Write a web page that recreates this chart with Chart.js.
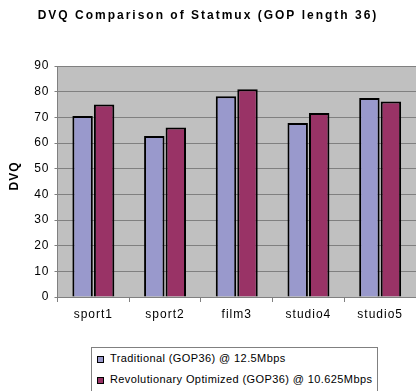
<!DOCTYPE html>
<html>
<head>
<meta charset="utf-8">
<script src="https://cdn.jsdelivr.net/npm/chart.js@4/dist/chart.umd.min.js"></script>
<style>
  html, body { margin: 0; padding: 0; background: #fff; overflow: hidden; }
  #wrap { position: relative; width: 416px; height: 391px; }
  #legend {
    position: absolute; left: 91px; top: 347px; width: 285px; height: 60px;
    border: 1px solid #808080; border-bottom: none; background: #fff;
    font: 11px "Liberation Sans", Arial, sans-serif; letter-spacing: 0.4px; color: #000;
  }
  #legend .item { height: 21px; line-height: 21px; padding-left: 5px; white-space: nowrap; }
  #legend .box {
    display: inline-block; width: 5px; height: 5px; border: 1px solid #000;
    margin-right: 6px; vertical-align: -1px;
  }
  #ytitle {
    position: absolute; left: 15px; top: 176px; width: 60px; height: 16px;
    margin-left: -30px; margin-top: -8px; line-height: 16px; text-align: center;
    font: bold 12px "Liberation Sans", Arial, sans-serif; letter-spacing: 1px; color: #000;
    transform: rotate(-90deg);
  }
</style>
</head>
<body>
<div id="wrap">
  <canvas id="chart" width="416" height="391"></canvas>
  <div id="ytitle"></div>
  <div id="legend"></div>
</div>
<script>
// Data
const categories = ['sport1', 'sport2', 'film3', 'studio4', 'studio5'];
const traditional = [70.5, 62.7, 78.2, 67.8, 77.5];
const revolutionary = [75.0, 66.0, 80.9, 71.7, 76.2];
const seriesNames = ['Traditional (GOP36) @ 12.5Mbps', 'Revolutionary Optimized (GOP36) @ 10.625Mbps'];
const yTicks = [0, 10, 20, 30, 40, 50, 60, 70, 80, 90];
const chartTitle = 'DVQ Comparison of Statmux (GOP length 36)';
const yTitle = 'DVQ';

const FONT = '"Liberation Sans", Arial, sans-serif';

// grey plot background + letter spacing for the old-style labels
const plotBg = {
  id: 'plotBg',
  beforeDraw(chart) {
    const { ctx, chartArea: a } = chart;
    ctx.save();
    ctx.fillStyle = '#c0c0c0';
    ctx.fillRect(a.left, a.top, a.right - a.left, a.bottom - a.top);
    ctx.restore();
    ctx.letterSpacing = '1px';
  }
};

// chart title drawn by hand so it can be spaced out
const spacedTitle = {
  id: 'spacedTitle',
  afterDraw(chart) {
    const ctx = chart.ctx;
    ctx.save();
    ctx.font = 'bold 12px ' + FONT;
    ctx.letterSpacing = '2px';
    ctx.fillStyle = '#000';
    ctx.textAlign = 'center';
    ctx.textBaseline = 'middle';
    ctx.fillText(chartTitle, 208, 16);
    ctx.restore();
  }
};

const ctx = document.getElementById('chart').getContext('2d');
const chart = new Chart(ctx, {
  type: 'bar',
  data: {
    labels: categories,
    datasets: [
      {
        label: seriesNames[0],
        data: traditional,
        backgroundColor: '#9999cc',
        borderColor: '#000',
        borderWidth: 2
      },
      {
        label: seriesNames[1],
        data: revolutionary,
        backgroundColor: '#993366',
        borderColor: '#000',
        borderWidth: 2
      }
    ]
  },
  options: {
    responsive: false,
    animation: false,
    devicePixelRatio: 1,
    categoryPercentage: 0.6,
    barPercentage: 0.95,
    layout: { padding: { top: 66, left: 0, right: 0, bottom: 64 } },
    plugins: {
      legend: { display: false },
      title: { display: false },
      tooltip: { enabled: false }
    },
    scales: {
      x: {
        grid: { display: true, drawOnChartArea: false, drawTicks: true, tickLength: 5, color: '#808080', offset: true },
        border: { color: '#808080' },
        ticks: { color: '#000', font: { family: FONT, size: 12 }, padding: 5 },
        afterFit(scale) { scale.height = 30; }
      },
      y: {
        min: 0,
        max: 90,
        afterBuildTicks(scale) { scale.ticks = yTicks.map(v => ({ value: v })); },
        grid: { color: '#808080', tickLength: 3 },
        border: { color: '#808080' },
        ticks: { color: '#000', font: { family: FONT, size: 12 }, padding: 5 },
        afterFit(scale) { scale.width = 57.5; }
      }
    }
  },
  plugins: [plotBg, spacedTitle]
});

document.getElementById('ytitle').textContent = yTitle;

// legend as html, built from the chart's datasets
const legend = document.getElementById('legend');
chart.data.datasets.forEach(ds => {
  const row = document.createElement('div');
  row.className = 'item';
  const box = document.createElement('span');
  box.className = 'box';
  box.style.background = ds.backgroundColor;
  row.appendChild(box);
  row.appendChild(document.createTextNode(ds.label));
  legend.appendChild(row);
});
</script>
</body>
</html>
